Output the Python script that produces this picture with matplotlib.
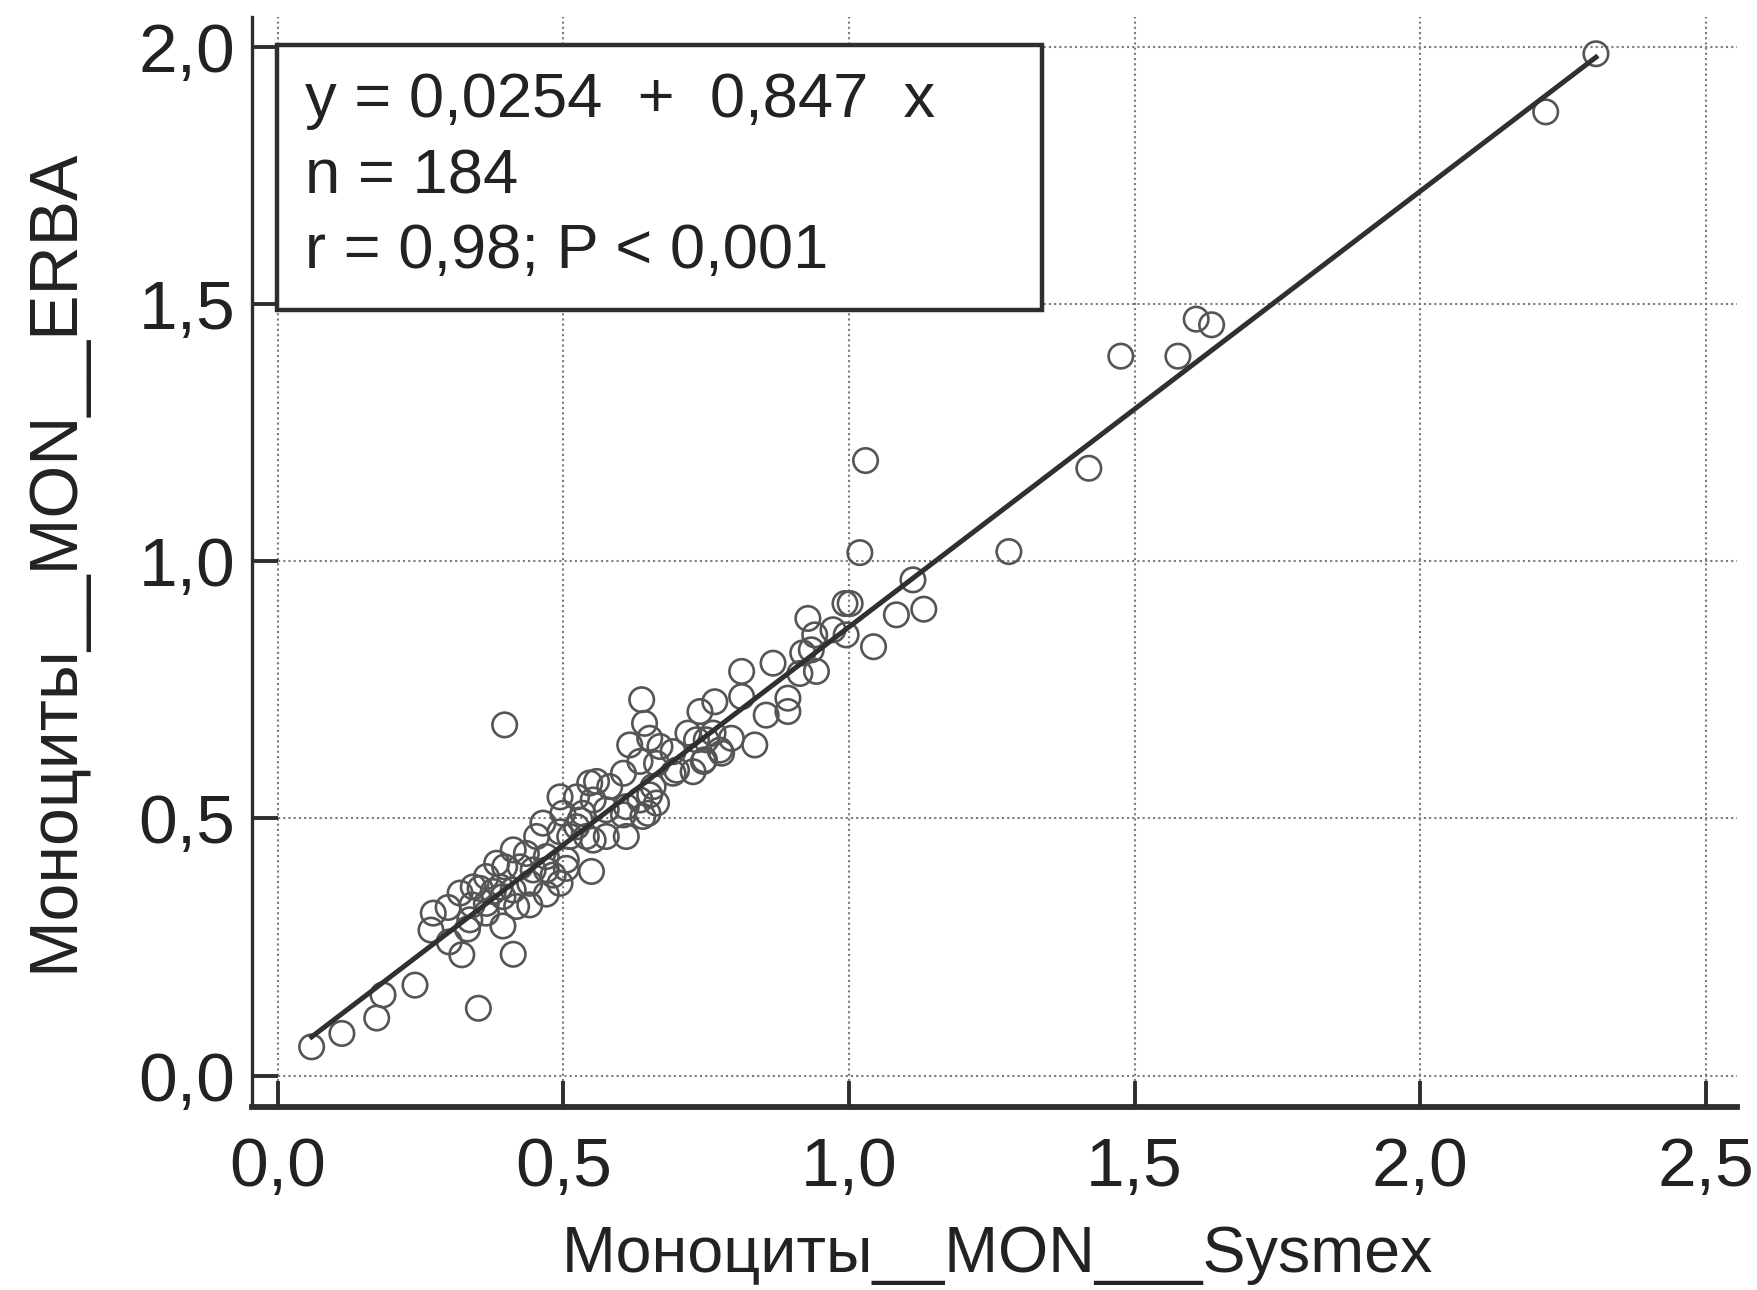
import numpy as np
import matplotlib
matplotlib.use("Agg")
import matplotlib.pyplot as plt
from matplotlib.patches import Rectangle

plt.rcParams['font.family'] = ['Liberation Sans', 'DejaVu Sans']

# Monocytes, 10^9/L: Sysmex (x) vs ERBA (y)
sysmex = [
    2.308, 2.220, 1.608, 1.635, 1.576, 1.476, 1.029, 1.420, 1.019, 1.280,
    1.112, 1.002, 0.993, 1.083, 1.131, 0.928, 0.940, 0.995, 1.043, 0.943,
    0.919, 0.972, 0.914, 0.867, 0.812, 0.934, 0.765, 0.812, 0.893, 0.893,
    0.855, 0.794, 0.835, 0.747, 0.777,
    0.059, 0.112, 0.173, 0.184, 0.240, 0.351, 0.322, 0.300, 0.412, 0.268,
    0.332, 0.394, 0.298, 0.340, 0.272, 0.365, 0.418, 0.441, 0.470, 0.354,
    0.342, 0.377, 0.389, 0.412, 0.365, 0.397, 0.424, 0.447, 0.470, 0.482,
    0.505, 0.505, 0.549, 0.412, 0.435, 0.470, 0.453, 0.494, 0.464, 0.511,
    0.540, 0.552, 0.575, 0.610, 0.499, 0.529, 0.534, 0.494, 0.523, 0.552,
    0.610, 0.605, 0.648, 0.651, 0.558, 0.581, 0.605, 0.657, 0.634, 0.698,
    0.727, 0.745, 0.692, 0.616, 0.669, 0.651, 0.718, 0.750, 0.774, 0.642,
    0.637, 0.739, 0.762, 0.397,
    0.336, 0.383, 0.523, 0.441, 0.494, 0.365, 0.394, 0.319, 0.546, 0.663,
    0.733, 0.692, 0.634, 0.575, 0.663, 0.639,
]
erba = [
    1.987, 1.874, 1.471, 1.460, 1.399, 1.399, 1.196, 1.181, 1.017, 1.019,
    0.964, 0.918, 0.918, 0.896, 0.907, 0.889, 0.857, 0.857, 0.834, 0.786,
    0.822, 0.867, 0.782, 0.802, 0.786, 0.828, 0.727, 0.737, 0.734, 0.708,
    0.701, 0.656, 0.643, 0.614, 0.627,
    0.056, 0.082, 0.112, 0.157, 0.176, 0.131, 0.235, 0.260, 0.236, 0.283,
    0.285, 0.291, 0.327, 0.332, 0.316, 0.316, 0.329, 0.332, 0.353, 0.364,
    0.367, 0.358, 0.367, 0.361, 0.387, 0.406, 0.406, 0.400, 0.400, 0.390,
    0.403, 0.419, 0.397, 0.439, 0.432, 0.426, 0.465, 0.474, 0.491, 0.465,
    0.465, 0.458, 0.465, 0.465, 0.510, 0.497, 0.510, 0.542, 0.542, 0.536,
    0.523, 0.507, 0.510, 0.546, 0.572, 0.562, 0.588, 0.562, 0.611, 0.594,
    0.591, 0.611, 0.630, 0.643, 0.640, 0.656, 0.666, 0.653, 0.633, 0.685,
    0.731, 0.708, 0.666, 0.682,
    0.303, 0.413, 0.484, 0.374, 0.374, 0.335, 0.348, 0.355, 0.569, 0.607,
    0.653, 0.588, 0.536, 0.517, 0.530, 0.504,
]

intercept = 0.0254
slope = 0.847
n_label = 184
r_value = "0,98"
p_text = "P < 0,001"

xticks = [0.0, 0.5, 1.0, 1.5, 2.0, 2.5]
yticks = [0.0, 0.5, 1.0, 1.5, 2.0]

xlabel = "Моноциты__MON___Sysmex"
ylabel = "Моноциты__MON__ERBA"

W, H = 1757, 1290
fig = plt.figure(figsize=(W / 100, H / 100), dpi=100)
ax = fig.add_axes([252 / W, 1 - 1107 / H, (1737 - 252) / W, (1107 - 17) / H])

ink = '#2e2e2e'

ax.scatter(sysmex, erba, s=310, facecolors='none', edgecolors='#555555',
           linewidths=1.9, zorder=3)

xs = np.array([min(sysmex), max(sysmex)])
ax.plot(xs, intercept + slope * xs, color='#303030', lw=3.6, zorder=4)

ax.set_xlim(-0.0454, 2.555)
ax.set_ylim(-0.061, 2.0585)
ax.set_xticks(xticks)
ax.set_yticks(yticks)
fmt = lambda v: f"{v:.1f}".replace('.', ',')
ax.set_xticklabels([fmt(v) for v in xticks])
ax.set_yticklabels([fmt(v) for v in yticks])

ax.grid(True, linestyle=(0, (1, 1.5)), color='#7a7a7a', linewidth=1.5, zorder=1)
ax.set_axisbelow(True)

for side in ('top', 'right'):
    ax.spines[side].set_visible(False)
ax.spines['left'].set_linewidth(2.4)
ax.spines['bottom'].set_linewidth(4.2)
ax.spines['left'].set_color(ink)
ax.spines['bottom'].set_color(ink)

ax.tick_params(axis='both', direction='in', length=19, width=2.8, color=ink,
               labelsize=50, labelcolor='#222222')
ax.tick_params(axis='y', pad=12)
ax.tick_params(axis='x', pad=21)

# statistics box in the upper-left corner
x0, y0 = ax.transAxes.inverted().transform(fig.transFigure.transform((277 / W, 1 - 310 / H)))
x1, y1 = ax.transAxes.inverted().transform(fig.transFigure.transform((1042 / W, 1 - 45 / H)))
ax.add_patch(Rectangle((x0, y0), x1 - x0, y1 - y0, transform=ax.transAxes,
                       facecolor='white', edgecolor=ink, lw=3.2, zorder=5))

lines = [
    f"y = {intercept:.4f}  +  {slope:.3f}  x".replace('.', ','),
    f"n = {n_label}",
    f"r = {r_value}; {p_text}",
]
for txt, ypx in zip(lines, [101, 177, 252]):
    fig.text(305 / W, 1 - ypx / H, txt, fontsize=45.5, color='#222222',
             ha='left', va='center', zorder=6)

fig.text(997 / W, 1 - 1255 / H, xlabel, fontsize=46.5, color='#222222',
         ha='center', va='center')
fig.text(54 / W, 1 - 560 / H, ylabel, fontsize=49, color='#222222',
         ha='center', va='center', rotation=90)

fig.savefig('out.png', dpi=100, facecolor='white')
